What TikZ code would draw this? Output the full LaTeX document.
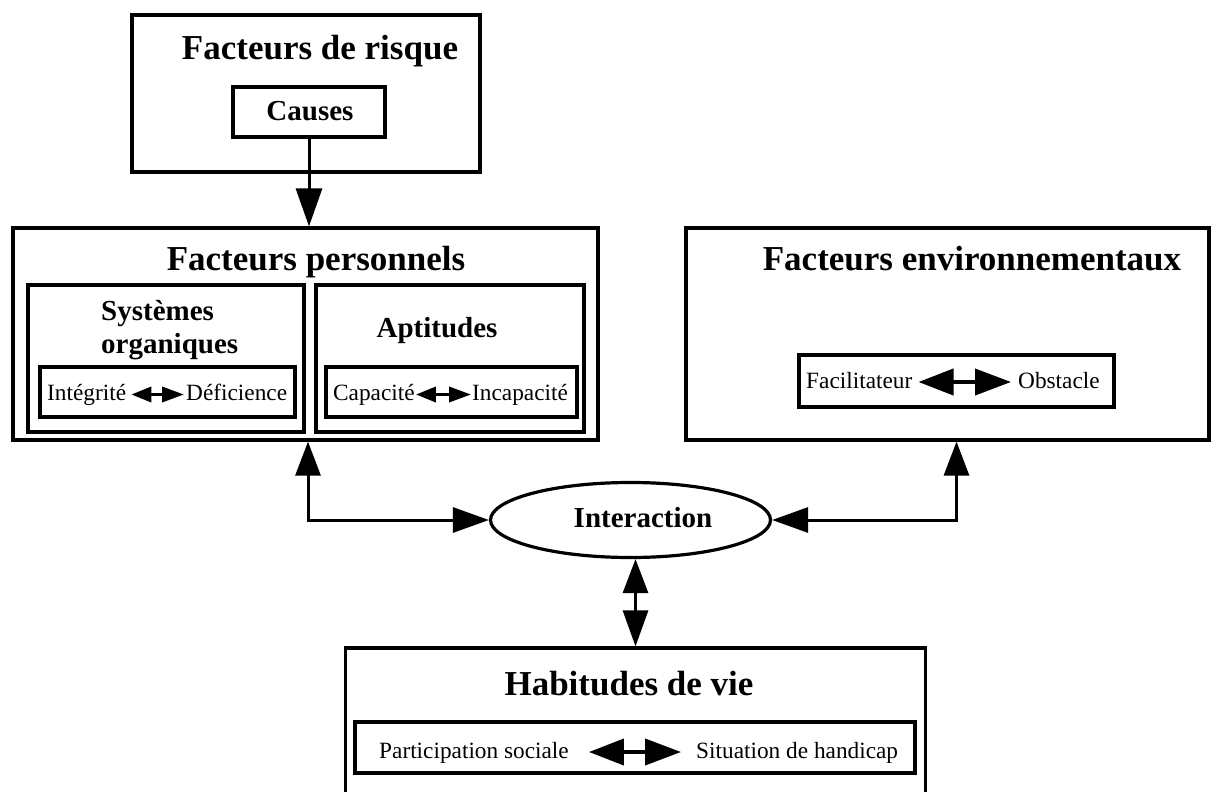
\documentclass[tikz,border=0pt]{standalone}
\usepackage{fontspec}
\setmainfont{Liberation Serif}
\usetikzlibrary{arrows.meta,shapes.geometric,calc}
\begin{document}
\begin{tikzpicture}[x=1pt,y=-1pt,
  box/.style={draw, line width=3.2pt, rectangle, inner sep=0pt, anchor=center},
  ttl/.style={font=\fontsize{35}{40}\selectfont\bfseries, inner sep=0pt, anchor=base},
  sub/.style={font=\fontsize{29}{33}\selectfont\bfseries, inner sep=0pt},
  sml/.style={font=\fontsize{23.3}{27}\selectfont, inner sep=0pt, anchor=base west},
  conn/.style={line width=3pt, -{Triangle[length=38pt,width=26pt]}},
  biconn/.style={line width=3pt, {Triangle[length=34pt,width=25pt]}-{Triangle[length=36pt,width=25pt]}},
  bigbi/.style={line width=4pt, {Triangle[length=35pt,width=26pt]}-{Triangle[length=36pt,width=26pt]}},
  minibi/.style={line width=3.5pt, {Triangle[length=20pt,width=15pt]}-{Triangle[length=22pt,width=15pt]}}]
\useasboundingbox (0,0) rectangle (1211,792);
\clip (0,0) rectangle (1211,792);
\fill[white] (0,0) rectangle (1211,792);

% Facteurs de risque
\node[box, minimum width=348pt, minimum height=157pt] (risk) at (306,93.5) {};
\node[ttl] (riskT) at (320,60) {Facteurs de risque};
\node[box, minimum width=152pt, minimum height=50pt] (causes) at (309,112) {};
\node[sub, anchor=base] (causesT) at (310,121) {Causes};

% Facteurs personnels
\node[box, minimum width=585pt, minimum height=212pt] (pers) at (305.5,334) {};
\node[ttl] (persT) at (316,270) {Facteurs personnels};
\node[box, minimum width=276pt, minimum height=147pt] (sys) at (166,358.5) {};
\node[sub, anchor=base west] (sysT1) at (101,320) {Systèmes};
\node[sub, anchor=base west] (sysT2) at (101,353) {organiques};
\node[box, minimum width=255pt, minimum height=50pt] (sysIn) at (167.5,392) {};
\node[sml] (integ) at (47,400) {Intégrité};
\node[sml] (defic) at (186,400) {Déficience};
\draw[minibi] ([xshift=5pt,yshift=5.5pt]integ.base east) -- ([xshift=-2pt,yshift=5.5pt]defic.base west);

\node[box, minimum width=268pt, minimum height=147pt] (apt) at (450,358.5) {};
\node[sub, anchor=base] (aptT) at (437,337) {Aptitudes};
\node[box, minimum width=251pt, minimum height=50pt] (aptIn) at (451.5,392) {};
\node[sml] (capa) at (333,400) {Capacité};
\node[sml] (incapa) at (472,400) {Incapacité};
\draw[minibi] ([xshift=1pt,yshift=5.5pt]capa.base east) -- ([xshift=-1pt,yshift=5.5pt]incapa.base west);

% Facteurs environnementaux
\node[box, minimum width=523pt, minimum height=212pt] (env) at (947.5,334) {};
\node[ttl] (envT) at (972,270) {Facteurs environnementaux};
\node[box, minimum width=315pt, minimum height=52pt] (envIn) at (956.5,381) {};
\node[sml] (facil) at (806,388) {Facilitateur};
\node[sml] (obst) at (1018,388) {Obstacle};
\draw[bigbi] ([xshift=6pt,yshift=6pt]facil.base east) -- ([xshift=-7pt,yshift=6pt]obst.base west);

% Interaction
\node[draw, ellipse, line width=3.2pt, minimum width=280pt, minimum height=75pt, inner sep=0pt] (ell) at (630.5,520) {};
\node[sub, anchor=base] (ellT) at (643,527) {Interaction};

% Habitudes de vie
\node[box, minimum width=580pt, minimum height=220pt] (hab) at (635.5,758) {};
\node[ttl] (habT) at (629,695) {Habitudes de vie};
\node[box, minimum width=560pt, minimum height=51pt] (habIn) at (635,747.5) {};
\node[sml] (partic) at (379,758) {Participation sociale};
\node[sml] (situ) at (696,758) {Situation de handicap};
\draw[bigbi] ([xshift=20pt,yshift=6pt]partic.base east) -- ([xshift=-15pt,yshift=6pt]situ.base west);

% connectors
\draw[conn] (causes.south) -- (causes.south |- pers.north);
\draw[biconn] ([xshift=2.5pt]pers.south) |- (ell.west);
\draw[biconn] (env.south -| envIn.south) |- (ell.east);
\draw[biconn] (ell.south -| hab.north) -- (hab.north);
\end{tikzpicture}
\end{document}
